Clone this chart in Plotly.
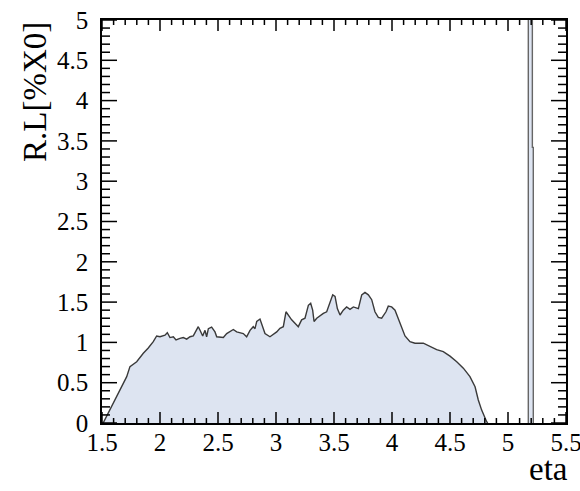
import plotly.graph_objects as go

# Radiation length profile vs eta
eta = [1.51, 1.713, 1.741, 1.799, 1.856, 1.899, 1.942, 1.971, 2.0, 2.043, 2.063, 2.086, 2.115,
       2.138, 2.172, 2.201, 2.23, 2.259, 2.287, 2.316, 2.33, 2.345, 2.368, 2.388, 2.402, 2.417,
       2.445, 2.474, 2.489, 2.546, 2.575, 2.632, 2.661, 2.718, 2.747, 2.776, 2.804, 2.819, 2.834,
       2.862, 2.885, 2.905, 2.948, 3.006, 3.034, 3.063, 3.086, 3.106, 3.135, 3.178, 3.192, 3.221,
       3.25, 3.279, 3.299, 3.316, 3.328, 3.351, 3.379, 3.408, 3.437, 3.466, 3.489, 3.509, 3.529,
       3.552, 3.58, 3.609, 3.638, 3.667, 3.71, 3.739, 3.767, 3.796, 3.825, 3.853, 3.882, 3.911,
       3.948, 3.968, 3.997, 4.026, 4.054, 4.083, 4.112, 4.155, 4.198, 4.27, 4.328, 4.385, 4.442,
       4.5, 4.558, 4.615, 4.672, 4.716, 4.744, 4.773, 4.816, 4.825]
rl = [0.0, 0.575, 0.70, 0.76, 0.865, 0.93, 1.01, 1.08, 1.07, 1.09, 1.12, 1.06, 1.07,
      1.03, 1.05, 1.06, 1.04, 1.07, 1.08, 1.15, 1.195, 1.15, 1.08, 1.15, 1.07, 1.17,
      1.19, 1.13, 1.07, 1.06, 1.11, 1.16, 1.13, 1.11, 1.07, 1.15, 1.195, 1.17, 1.26,
      1.29, 1.195, 1.11, 1.07, 1.13, 1.175, 1.195, 1.38, 1.34, 1.28, 1.216, 1.195, 1.28,
      1.30, 1.46, 1.485, 1.40, 1.26, 1.30, 1.33, 1.36, 1.38, 1.505, 1.59, 1.57, 1.42,
      1.34, 1.40, 1.44, 1.41, 1.44, 1.42, 1.59, 1.62, 1.59, 1.53, 1.38, 1.31, 1.30,
      1.38, 1.45, 1.44, 1.40, 1.30, 1.195, 1.08, 1.01, 0.99, 0.99, 0.95, 0.91, 0.885,
      0.83, 0.76, 0.68, 0.575, 0.45, 0.285, 0.16, 0.016, 0.0]

# Narrow spike bins near eta ~ 5.2 (first bin exceeds the axis range)
spike_edges = [5.175, 5.21, 5.218]
spike_values = [6.0, 3.42]

x_range = [1.5, 5.5]
y_range = [0, 5]
x_major = [1.5, 2.0, 2.5, 3.0, 3.5, 4.0, 4.5, 5.0, 5.5]
y_major = [0.0, 0.5, 1.0, 1.5, 2.0, 2.5, 3.0, 3.5, 4.0, 4.5, 5.0]
minor_per_major = 5

FILL = "#dde4f1"
LINE = "#3a3a3a"
FONT = "Liberation Serif"

W, H = 580, 491
M = dict(l=102, r=14, t=20, b=68)
plot_w = W - M["l"] - M["r"]
plot_h = H - M["t"] - M["b"]
px_x = plot_w / (x_range[1] - x_range[0])   # pixels per x unit
px_y = plot_h / (y_range[1] - y_range[0])   # pixels per y unit

# step outline for the spike bins
sx, sy = [spike_edges[0]], [0.0]
for i, v in enumerate(spike_values):
    sx += [spike_edges[i], spike_edges[i + 1]]
    sy += [v, v]
sx.append(spike_edges[-1])
sy.append(0.0)


def minor_of(major):
    out = []
    for a, b in zip(major[:-1], major[1:]):
        step = (b - a) / minor_per_major
        out += [round(a + k * step, 6) for k in range(1, minor_per_major)]
    return out


# inward-pointing tick marks on all four sides of the frame
tx, ty = [], []
for vals, length_px in ((x_major, 11), (minor_of(x_major), 5)):
    L = length_px / px_y
    for t in vals:
        tx += [t, t, None, t, t, None]
        ty += [y_range[0], y_range[0] + L, None, y_range[1], y_range[1] - L, None]
for vals, length_px in ((y_major, 15), (minor_of(y_major), 8)):
    L = length_px / px_x
    for v in vals:
        tx += [x_range[0], x_range[0] + L, None, x_range[1], x_range[1] - L, None]
        ty += [v, v, None, v, v, None]

fig = go.Figure()
fig.add_trace(go.Scatter(x=eta, y=rl, mode="lines", fill="tozeroy", fillcolor=FILL,
                         line=dict(color=LINE, width=1.4), hoverinfo="skip"))
fig.add_trace(go.Scatter(x=sx, y=sy, mode="lines", fill="tozeroy", fillcolor=FILL,
                         line=dict(color="#666666", width=1.4), hoverinfo="skip"))
fig.add_trace(go.Scatter(x=tx, y=ty, mode="lines", line=dict(color="black", width=1.5),
                         hoverinfo="skip", connectgaps=False))

tickfont = dict(family=FONT, size=25, color="black")

fig.update_layout(
    xaxis=dict(range=x_range, showgrid=False, zeroline=False, showline=True,
               linecolor="black", linewidth=1.5, mirror=True, automargin=False,
               ticks="", tick0=x_range[0], dtick=0.5, tickfont=tickfont,
               ticklabeloverflow="allow", ticklabelstandoff=-4),
    yaxis=dict(range=y_range, showgrid=False, zeroline=False, showline=True,
               linecolor="black", linewidth=1.5, mirror=True, automargin=False,
               ticks="", tick0=y_range[0], dtick=0.5, tickfont=tickfont,
               ticklabelstandoff=7),
)

fig.add_annotation(text="R.L[%X0]", xref="paper", yref="paper", x=0, y=1, xanchor="center",
                   yanchor="top", xshift=-67, yshift=0, textangle=-90, showarrow=False,
                   font=dict(family=FONT, size=33, color="black"))
fig.add_annotation(text="eta", xref="paper", yref="paper", x=1, y=0, xanchor="right",
                   yanchor="top", xshift=4, yshift=-26, showarrow=False,
                   font=dict(family=FONT, size=33, color="black"))

fig.update_layout(width=W, height=H, margin=M,
                  plot_bgcolor="white", paper_bgcolor="white", showlegend=False)

fig.write_html("out.html")
